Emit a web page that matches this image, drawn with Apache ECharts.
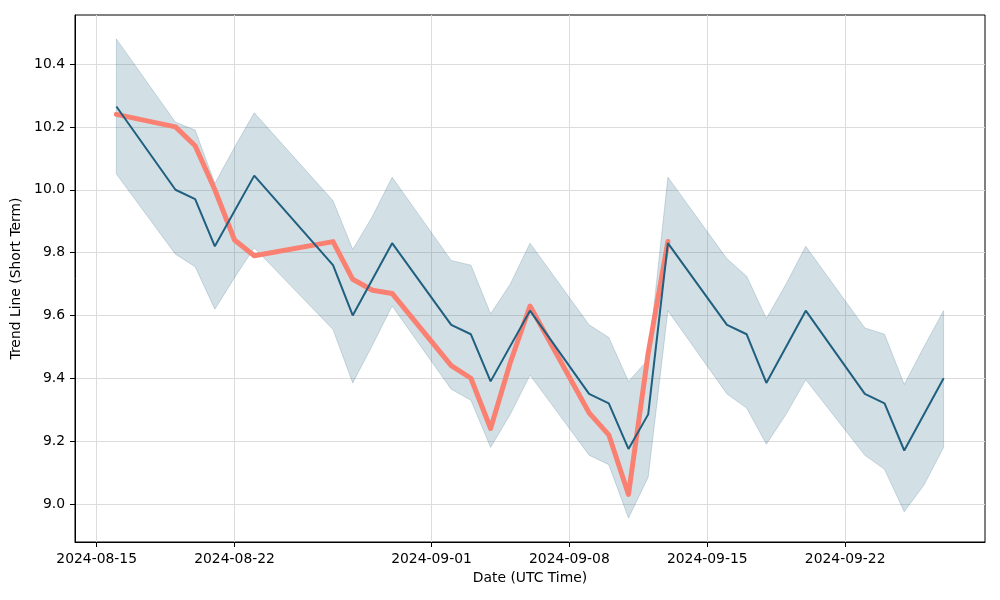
<!DOCTYPE html>
<html>
<head>
<meta charset="utf-8">
<script src="https://cdn.jsdelivr.net/npm/echarts@6/dist/echarts.min.js"></script>
<style>
html,body{margin:0;padding:0;background:#fff;}
#chart{width:1000px;height:600px;}
</style>
</head>
<body>
<div id="chart"></div>
<script>
var dates = ['2024-08-16','2024-08-19','2024-08-20','2024-08-21','2024-08-22','2024-08-23','2024-08-27','2024-08-28','2024-08-29','2024-08-30','2024-09-02','2024-09-03','2024-09-04','2024-09-05','2024-09-06','2024-09-09','2024-09-10','2024-09-11','2024-09-12','2024-09-13','2024-09-16','2024-09-17','2024-09-18','2024-09-19','2024-09-20','2024-09-23','2024-09-24','2024-09-25','2024-09-26','2024-09-27'];

var trendLine = [10.265,10.0,9.97,9.82,null,10.045,9.76,9.60,null,9.83,9.57,9.54,9.39,null,9.615,9.35,9.32,9.175,9.285,9.83,9.57,9.54,9.385,null,9.615,9.35,9.32,9.17,null,9.40];

var bandUpper = [10.48,10.215,10.19,10.02,10.135,10.245,9.965,9.81,9.915,10.04,9.775,9.76,9.605,9.70,9.83,9.57,9.53,9.39,9.46,10.04,9.78,9.725,9.59,9.70,9.82,9.56,9.54,9.38,9.50,9.615];

var bandLower = [10.05,9.795,9.755,9.62,9.72,9.815,9.555,9.385,9.505,9.63,9.365,9.33,9.18,9.285,9.41,9.155,9.125,8.955,9.085,9.615,9.35,9.305,9.19,9.285,9.395,9.155,9.11,8.975,9.06,9.18];

var actualDates = ['2024-08-16','2024-08-19','2024-08-20','2024-08-21','2024-08-22','2024-08-23','2024-08-27','2024-08-28','2024-08-29','2024-08-30','2024-09-02','2024-09-03','2024-09-04','2024-09-05','2024-09-06','2024-09-09','2024-09-10','2024-09-11','2024-09-12','2024-09-13'];
var actualValues = [10.24,10.20,10.14,10.0,9.84,9.79,9.835,9.715,9.68,9.67,9.44,9.40,9.24,9.45,9.63,9.29,9.22,9.03,9.48,9.835];

var xTickLabels = ['2024-08-15','2024-08-22','2024-09-01','2024-09-08','2024-09-15','2024-09-22'];
var yTickValues = [9.0,9.2,9.4,9.6,9.8,10.0,10.2,10.4];

function ts(s){ var p = s.split('-'); return Date.UTC(+p[0], +p[1]-1, +p[2]); }
function pad2(n){ return (n<10?'0':'')+n; }
function fmt(v){ var d = new Date(Math.round(v)); return d.getUTCFullYear()+'-'+pad2(d.getUTCMonth()+1)+'-'+pad2(d.getUTCDate()); }

var t0 = ts(dates[0]), t1 = ts(dates[dates.length-1]);
var xPad = (t1 - t0) * 0.05;
var allY = bandUpper.concat(bandLower);
var yLo = Math.min.apply(null, allY), yHi = Math.max.apply(null, allY);
var yPad = (yHi - yLo) * 0.05;

var bandData = dates.map(function(d,i){ return [ts(d), bandLower[i], bandUpper[i]]; });
var trendData = dates.map(function(d,i){ return [ts(d), trendLine[i]]; });
var actualData = actualDates.map(function(d,i){ return [ts(d), actualValues[i]]; });

function renderBand(params, api){
  if (params.dataIndex !== 0) return null;
  var pts = [];
  for (var i = 0; i < bandData.length; i++) pts.push(api.coord([bandData[i][0], bandData[i][2]]));
  for (var j = bandData.length - 1; j >= 0; j--) pts.push(api.coord([bandData[j][0], bandData[j][1]]));
  return {
    type: 'polygon',
    shape: {points: pts},
    style: {fill: 'rgba(31,95,127,0.2)', stroke: 'rgba(31,95,127,0.2)', lineWidth: 1}
  };
}

var font = 'DejaVu Sans';
var chart = echarts.init(document.getElementById('chart'), null, {renderer:'canvas'});
chart.setOption({
  animation: false,
  backgroundColor: '#fff',
  grid: {left:75, right:15, top:15, bottom:58, show:true, borderColor:'#000', borderWidth:1, backgroundColor:'transparent'},
  xAxis: {
    type: 'value',
    min: t0 - xPad, max: t1 + xPad,
    name: 'Date (UTC Time)', nameLocation: 'middle', nameGap: 29,
    nameTextStyle: {fontFamily: font, fontSize: 13.9, color:'#000'},
    axisLine: {show:true, onZero:false, lineStyle:{color:'#000', width:1}},
    axisTick: {show:true, inside:false, length:5, lineStyle:{color:'#000'}, customValues: xTickLabels.map(ts)},
    axisLabel: {show:true, margin:10, fontFamily: font, fontSize: 13.9, color:'#000', customValues: xTickLabels.map(ts), formatter: function(v){ return fmt(v); }},
    splitLine: {show:true, lineStyle:{color:'#dcdcdc', width:1}}
  },
  yAxis: {
    type: 'value',
    min: yLo - yPad, max: yHi + yPad,
    name: 'Trend Line (Short Term)', nameLocation: 'middle', nameGap: 45,
    nameTextStyle: {fontFamily: font, fontSize: 13.9, color:'#000'},
    axisLine: {show:true, onZero:false, lineStyle:{color:'#000', width:1}},
    axisTick: {show:true, inside:false, length:5, lineStyle:{color:'#000'}, customValues: yTickValues},
    axisLabel: {show:true, margin:10, fontFamily: font, fontSize: 13.9, color:'#000', customValues: yTickValues, formatter: function(v){ return v.toFixed(1); }},
    splitLine: {show:true, lineStyle:{color:'#dcdcdc', width:1}}
  },
  series: [
    {type:'custom', name:'band', data: bandData, renderItem: renderBand, silent:true, clip:true,
     encode:{x:0, y:[1,2]}, z:2},
    {type:'line', name:'actual', data: actualData, symbol:'none', silent:true,
     lineStyle:{color:'#fa8072', width:5, cap:'round', join:'round'}, z:3},
    {type:'line', name:'trend', data: trendData, symbol:'none', connectNulls:true, silent:true,
     lineStyle:{color:'#1f5f7f', width:2}, z:4}
  ]
});
</script>
</body>
</html>
